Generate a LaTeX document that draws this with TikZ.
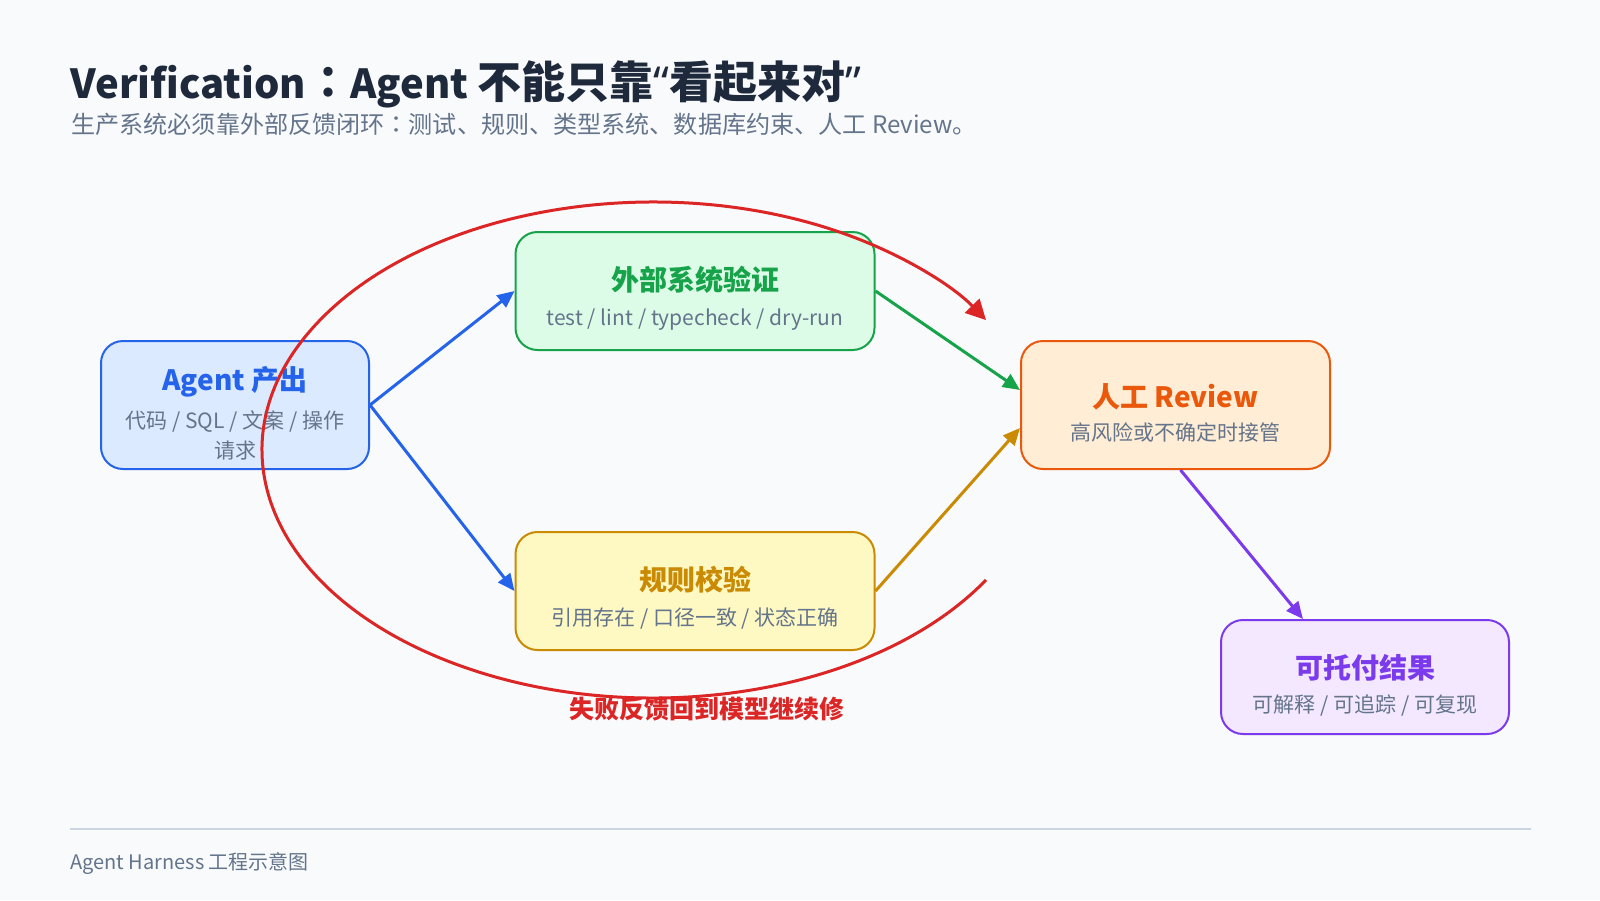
\documentclass[tikz,border=0pt]{standalone}
\usepackage{fontspec}
\setmainfont{Noto Sans CJK SC}
\newfontfamily\quotefont{Noto Sans}
\newfontfamily\colonfont{Noto Sans CJK JP}
\usepackage{xcolor}
\usepackage{tikz}
\usetikzlibrary{arrows.meta}

\definecolor{bgc}{HTML}{F8FAFC}
\definecolor{ink}{HTML}{1E293B}
\definecolor{slate}{HTML}{64748B}
\definecolor{rulec}{HTML}{CBD5E1}
\definecolor{blueln}{HTML}{2563EB}
\definecolor{bluebg}{HTML}{DBEAFE}
\definecolor{greenln}{HTML}{16A34A}
\definecolor{greenbg}{HTML}{DCFCE7}
\definecolor{goldln}{HTML}{CA8A04}
\definecolor{goldbg}{HTML}{FEF9C3}
\definecolor{orangeln}{HTML}{EA580C}
\definecolor{orangebg}{HTML}{FFEDD5}
\definecolor{purpleln}{HTML}{7C3AED}
\definecolor{purplebg}{HTML}{F3E8FF}
\definecolor{redln}{HTML}{DC2626}

\begin{document}
\begin{tikzpicture}[
  x=0.5pt, y=-0.5pt,
  box/.style={draw, line width=1pt, rounded corners=11pt, align=center, inner sep=0pt,
              font=\fontsize{10.5}{15}\selectfont, text=slate},
  arr/.style={-{Triangle[length=8.5pt,width=7.5pt]}, line width=1.5pt}
]
\fill[bgc] (0,0) rectangle (1600,900);

% heading (latin runs set a little smaller than the CJK)
\node[anchor=base west, inner sep=0pt, text=ink, font=\fontsize{22}{26}\selectfont\bfseries] (title) at (70,98)
  {{\fontsize{20}{24}\selectfont Verification}{\colonfont ：}{\fontsize{20}{24}\selectfont Agent }不能只靠{\quotefont “}看起来对{\quotefont ”}};
\node[anchor=base west, inner sep=0pt, text=slate, font=\fontsize{12.05}{15}\selectfont] (subtitle) at (71,133.5)
  {生产系统必须靠外部反馈闭环{\colonfont ：}测试、规则、类型系统、数据库约束、人工 Review。};

% boxes
\node[box, fill=bluebg, draw=blueln, minimum width=134pt, minimum height=64pt] (agent) at (235,405)
  {\rule{0pt}{20pt}{\fontsize{14}{17}\selectfont\bfseries\color{blueln}Agent 产出}\\[4pt]
   代码 / SQL / 文案 / 操作\\请求};
\node[box, fill=greenbg, draw=greenln, minimum width=179.5pt, minimum height=59pt] (ext) at (695,291)
  {\rule{0pt}{19pt}{\fontsize{14}{17}\selectfont\bfseries\color{greenln}外部系统验证}\\[2.5pt]
   test / lint / typecheck / dry-run};
\node[box, fill=goldbg, draw=goldln, minimum width=179.5pt, minimum height=59pt] (rule) at (695,591)
  {\rule{0pt}{19pt}{\fontsize{14}{17}\selectfont\bfseries\color{goldln}规则校验}\\[2.5pt]
   引用存在 / 口径一致 / 状态正确};
\node[box, fill=orangebg, draw=orangeln, minimum width=154.5pt, minimum height=64pt] (review) at (1175.5,405)
  {\rule{0pt}{20pt}{\fontsize{14}{17}\selectfont\bfseries\color{orangeln}人工 Review}\\[1.5pt]
   高风险或不确定时接管};
\node[box, fill=purplebg, draw=purpleln, minimum width=144pt, minimum height=57pt] (result) at (1365,677)
  {\rule{0pt}{20pt}{\fontsize{14}{17}\selectfont\bfseries\color{purpleln}可托付结果}\\[2pt]
   可解释 / 可追踪 / 可复现};

% flow
\draw[arr, blueln] (agent.east) -- (ext.west);
\draw[arr, blueln] (agent.east) -- (rule.west);
\draw[arr, greenln] (ext.east) -- ([yshift=7.5pt]review.west);
\draw[arr, goldln] (rule.east) -- ([yshift=-11.5pt]review.west);
\draw[arr, purpleln] ([xshift=2.5pt]review.south) -- ([xshift=-31pt]result.north);

% feedback loop
\coordinate (loopc) at (653,450);
\draw[redln, line width=1.5pt, -{Triangle[length=10pt,width=10pt]}]
  (loopc) ++(-31.6:195.5pt and 124pt) arc[start angle=-31.6, end angle=-328.4, x radius=195.5pt, y radius=124pt];
\node[text=redln, font=\fontsize{12.5}{15}\selectfont\bfseries] (fail) at (707,709) {失败反馈回到模型继续修};

% footer
\coordinate (footl) at (70,828.5);
\coordinate (footr) at (1531,828.5);
\draw[rulec, line width=1pt] (footl) -- (footr);
\node[anchor=base west, inner sep=0pt, text=slate, font=\fontsize{10}{12}\selectfont] (foot) at (70,869)
  {Agent Harness 工程示意图};
\end{tikzpicture}
\end{document}
